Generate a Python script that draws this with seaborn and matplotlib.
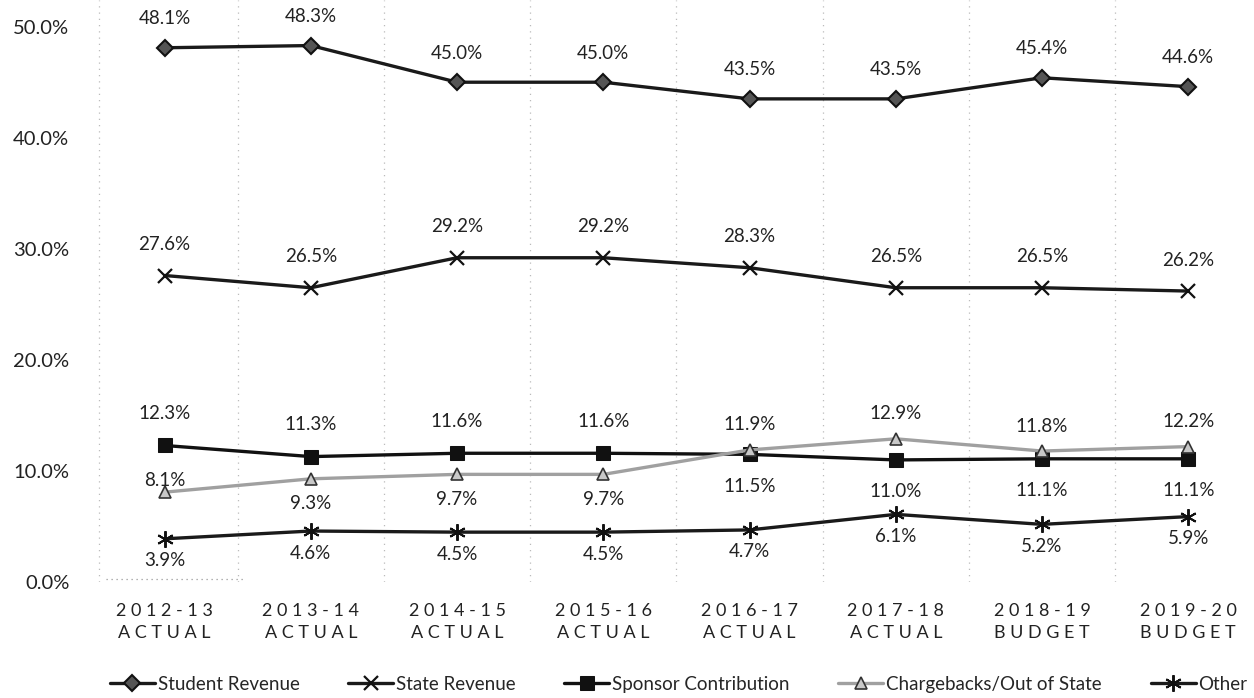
import matplotlib
matplotlib.use("Agg")
import matplotlib.pyplot as plt
import seaborn as sns
import pandas as pd

sns.set_theme(style="white")
plt.rcParams["font.family"] = ["Lato", "DejaVu Sans"]

# 数据
years = ["2012-13", "2013-14", "2014-15", "2015-16", "2016-17", "2017-18", "2018-19", "2019-20"]
kinds = ["ACTUAL", "ACTUAL", "ACTUAL", "ACTUAL", "ACTUAL", "ACTUAL", "BUDGET", "BUDGET"]
student = [48.1, 48.3, 45.0, 45.0, 43.5, 43.5, 45.4, 44.6]
state = [27.6, 26.5, 29.2, 29.2, 28.3, 26.5, 26.5, 26.2]
sponsor = [12.3, 11.3, 11.6, 11.6, 11.5, 11.0, 11.1, 11.1]
chargebacks = [8.1, 9.3, 9.7, 9.7, 11.9, 12.9, 11.8, 12.2]
other = [3.9, 4.6, 4.5, 4.5, 4.7, 6.1, 5.2, 5.9]

# 标签位置: +1 上方, -1 下方
sponsor_pos = [1, 1, 1, 1, -1, -1, -1, -1]
charge_pos = [1, -1, -1, -1, 1, 1, 1, 1]

series = [
    ("Student Revenue", student,
     dict(color="#1a1a1a", marker="D", markersize=8, mfc="#555555", mec="#111111", mew=1.5), [1] * 8, 29),
    ("State Revenue", state,
     dict(color="#1a1a1a", marker="x", markersize=10, mec="#111111", mew=1.6), [1] * 8, 31),
    ("Sponsor Contribution", sponsor,
     dict(color="#111111", marker="s", markersize=10, mec="#111111"), sponsor_pos, 32),
    ("Chargebacks/Out of State", chargebacks,
     dict(color="#a0a0a0", marker="^", markersize=9, mfc="#c8c8c8", mec="#333333", mew=1.2), charge_pos, 25),
    ("Other", other,
     dict(color="#1a1a1a", marker=(6, 2, 0), markersize=12, mec="#111111", mew=1.4), [-1] * 8, 22),
]

fig = plt.figure(figsize=(12.54, 6.98), dpi=100)
ax = fig.add_axes([0.073, 0.166, 0.927, 0.834])

x = list(range(len(years)))
for name, vals, style, pos, off in series:
    df = pd.DataFrame({"x": x, "y": vals})
    sns.lineplot(data=df, x="x", y="y", ax=ax, linewidth=2.4, label=name, **style)
    for xi, yi, p in zip(x, vals, pos):
        o = off if p > 0 else -off
        if name == "Chargebacks/Out of State" and xi == 0:
            o = 12
        ax.annotate(f"{yi:.1f}%", (xi, yi), xytext=(0, o), textcoords="offset pixels",
                    ha="center", va="center", fontsize=13.5, color="#222222")

# 分隔虚线
for b in range(-1, len(years) - 1):
    ax.axvline(b + 0.5 if b >= 0 else -0.45, color="#bbbbbb", linestyle=(0, (1, 4)),
               linewidth=0.9, zorder=0)
ax.plot([-0.4, 0.55], [0.3, 0.3], color="#999999", linestyle=(0, (1, 3)), linewidth=0.9, zorder=0)

ax.set_xlim(-0.5, 7.45)
ax.set_ylim(0, 52.4)
ax.set_yticks([0, 10, 20, 30, 40, 50])
ax.set_yticklabels([f"{v:.1f}%" for v in [0, 10, 20, 30, 40, 50]], fontsize=14.5, color="#222222")
ax.set_xticks(x)
ax.set_xticklabels([" ".join(y) + "\n" + " ".join(k) for y, k in zip(years, kinds)],
                   fontsize=13, color="#222222", linespacing=1.5)
ax.tick_params(axis="x", length=0, pad=15)
ax.tick_params(axis="y", length=0, pad=16)
ax.set_xlabel("")
ax.set_ylabel("")
for s in ax.spines.values():
    s.set_visible(False)

ax.legend(loc="center", bbox_to_anchor=(0.505, -0.175), ncol=5, frameon=False, fontsize=13.5,
          handlelength=2.4, columnspacing=2.6, handletextpad=0.15)

fig.savefig("out.png", dpi=100)
